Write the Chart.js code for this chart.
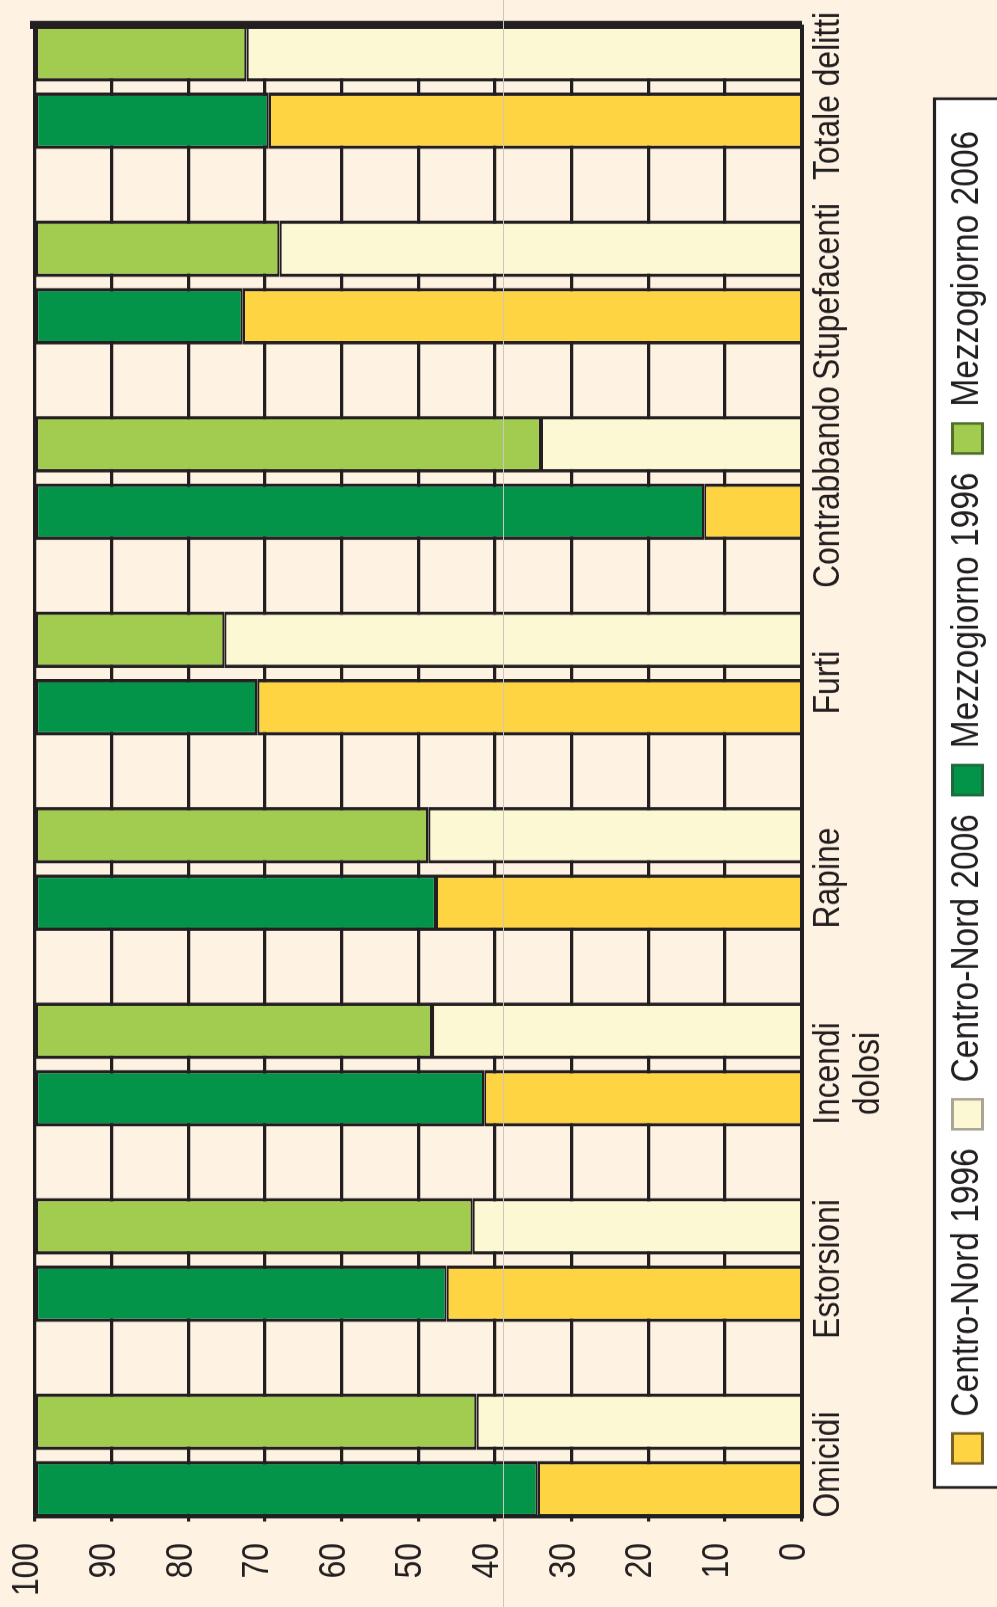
<!DOCTYPE html>
<html>
<head>
<meta charset="utf-8">
<script src="https://cdn.jsdelivr.net/npm/chart.js@4/dist/chart.umd.min.js"></script>
<style>
html, body {
  margin: 0;
  padding: 0;
  background: #fef2e3;
  overflow: hidden;
}
#wrap {
  position: absolute;
  left: 0;
  top: 0;
  width: 1607px;
  height: 997px;
  transform-origin: 0 0;
  transform: translateY(1607px) rotate(-90deg);
}
/* the original type is condensed: squeeze the canvas along the reading direction */
#crimini {
  display: block;
  width: 1869px;
  height: 997px;
  transform-origin: 0 0;
  transform: scaleX(0.86);
}
#fold {
  position: absolute;
  left: 503px;
  top: 0;
  width: 1px;
  height: 1607px;
  background: #c9c7bf;
}
</style>
</head>
<body>

<div id="wrap">
  <canvas id="crimini" width="1869" height="997"></canvas>
</div>
<div id="fold"></div>

<script>
// quota percentuale dei delitti, Centro-Nord vs Mezzogiorno
var categories = ['Omicidi', 'Estorsioni', ['Incendi', 'dolosi'], 'Rapine', 'Furti', 'Contrabbando', 'Stupefacenti', 'Totale delitti'];
var centroNord1996  = [34.4, 46.3, 41.4, 47.7, 71.0, 12.7, 72.9, 69.5];
var centroNord2006  = [42.4, 42.9, 48.2, 48.7, 75.3, 34.0, 68.1, 72.4];
var mezzogiorno1996 = [65.6, 53.7, 58.6, 52.3, 29.0, 87.3, 27.1, 30.5];
var mezzogiorno2006 = [57.6, 57.1, 51.8, 51.3, 24.7, 66.0, 31.9, 27.6];
var yTicks = [0, 10, 20, 30, 40, 50, 60, 70, 80, 90, 100];
</script>

<script>
var INK = '#231f20';
var SQ = 0.86; // horizontal squeeze of the canvas, widths below are divided by it

function points(arr) {
  return arr.map(function (v, i) { return {x: i, y: v}; });
}

Chart.defaults.font.family = '"Liberation Sans", Arial, sans-serif';
Chart.defaults.font.size = 37;
Chart.defaults.color = INK;

// riquadro bianco della legenda (e legenda un po' spostata a destra)
var legendBox = {
  id: 'legendBox',
  afterLayout: function (chart) {
    var lg = chart.legend;
    if (!lg) return;
    lg.left += 22;
    lg.right += 22;
  },
  beforeDraw: function (chart) {
    var lg = chart.legend;
    if (!lg || !lg.legendHitBoxes || !lg.legendHitBoxes.length) return;
    var hb = lg.legendHitBoxes;
    var left = hb[0].left - 24 / SQ;
    var right = hb[hb.length - 1].left + hb[hb.length - 1].width + 32 / SQ;
    var ctx = chart.ctx;
    ctx.save();
    ctx.fillStyle = '#ffffff';
    ctx.strokeStyle = INK;
    ctx.lineWidth = 3.2;
    ctx.fillRect(left, 934.5, right - left, 120);
    ctx.strokeRect(left, 934.5, right - left, 120);
    ctx.restore();
  }
};

var swatchBorders = ['#7a5f25', '#a9a697', '#1f6a3a', '#4f6e2b'];
var side = 3.4 / SQ;

var chart = new Chart(document.getElementById('crimini'), {
  type: 'bar',
  data: {
    datasets: [
      {label: 'Centro-Nord 1996', data: points(centroNord1996), stack: 's1996',
       backgroundColor: '#fed443', borderWidth: {left: side, right: side, top: 2.2, bottom: 0}},
      {label: 'Centro-Nord 2006', data: points(centroNord2006), stack: 's2006',
       backgroundColor: '#fcf8d4', borderWidth: {left: side, right: side, top: 2.2, bottom: 0}},
      {label: 'Mezzogiorno 1996', data: points(mezzogiorno1996), stack: 's1996',
       backgroundColor: '#039449', borderWidth: {left: side, right: side, top: 3.3, bottom: 2.2}},
      {label: 'Mezzogiorno 2006', data: points(mezzogiorno2006), stack: 's2006',
       backgroundColor: '#a1cc50', borderWidth: {left: side, right: side, top: 3.3, bottom: 2.2}}
    ]
  },
  options: {
    responsive: false,
    animation: false,
    layout: {padding: {top: 35, right: 29.5, bottom: 0, left: 0}},
    datasets: {
      bar: {
        borderColor: INK,
        borderSkipped: false,
        categoryPercentage: 0.69,
        barPercentage: 0.837
      }
    },
    scales: {
      x: {
        type: 'linear',
        min: -0.312,
        max: 7.317,
        offset: false,
        grid: {display: false, drawTicks: false, offset: false},
        border: {display: true, color: INK, width: 4, z: 1},
        afterBuildTicks: function (scale) {
          scale.ticks = categories.map(function (c, i) { return {value: i}; });
        },
        afterFit: function (scale) {
          scale.height = 124.5;
          scale.paddingLeft = 0;
          scale.paddingRight = 0;
        },
        ticks: {
          autoSkip: false,
          maxRotation: 0,
          padding: 7,
          labelOffset: -9 / SQ,
          font: {size: 37, lineHeight: 1.08},
          callback: function (value) { return categories[value]; }
        }
      },
      y: {
        stacked: true,
        min: 0,
        max: 100,
        afterBuildTicks: function (scale) {
          scale.ticks = yTicks.map(function (v) { return {value: v}; });
        },
        afterFit: function (scale) {
          scale.width = 90.5 / SQ;
          scale.paddingTop = 0;
          scale.paddingBottom = 0;
        },
        grid: {color: INK, lineWidth: 3.2, tickLength: 5 / SQ},
        border: {display: true, color: INK, width: side, z: 1},
        ticks: {padding: 25, labelOffset: -7, font: {size: 37}}
      },
      yR: {
        type: 'linear',
        position: 'right',
        min: 0,
        max: 100,
        grid: {display: true, drawOnChartArea: false, drawTicks: false},
        border: {display: true, color: INK, width: 8 / SQ, z: 1},
        ticks: {display: false},
        afterFit: function (scale) {
          scale.width = 0;
          scale.paddingTop = 0;
          scale.paddingBottom = 0;
        }
      }
    },
    plugins: {
      tooltip: {enabled: false},
      legend: {
        position: 'bottom',
        labels: {
          boxWidth: 30 / SQ,
          boxHeight: 30,
          padding: 22,
          color: INK,
          font: {size: 39},
          generateLabels: function (chart) {
            var items = Chart.defaults.plugins.legend.labels.generateLabels(chart);
            items.forEach(function (it, i) {
              it.strokeStyle = swatchBorders[i];
              it.lineWidth = 3;
            });
            return items;
          }
        }
      }
    }
  },
  plugins: [legendBox]
});
</script>

</body>
</html>
